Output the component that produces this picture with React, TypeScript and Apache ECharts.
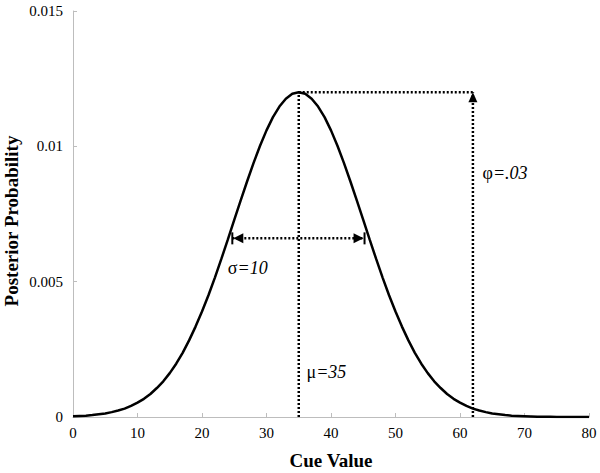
import React, { useEffect, useRef } from "react";
import * as echarts from "echarts";

const cueValues = [
  0, 1, 2, 3, 4, 5, 6, 7, 8, 9, 10, 11, 12, 13, 14, 15, 16, 17, 18, 19, 20,
  21, 22, 23, 24, 25, 26, 27, 28, 29, 30, 31, 32, 33, 34, 35, 36, 37, 38, 39, 40,
  41, 42, 43, 44, 45, 46, 47, 48, 49, 50, 51, 52, 53, 54, 55, 56, 57, 58, 59, 60,
  61, 62, 63, 64, 65, 66, 67, 68, 69, 70, 71, 72, 73, 74, 75, 76, 77, 78, 79, 80,
];

const posterior = [
  0.00003, 0.00004, 0.00005, 0.00007, 0.0001, 0.00013, 0.00018, 0.00024, 0.00031, 0.00041,
  0.00053, 0.00067, 0.00085, 0.00107, 0.00132, 0.00162, 0.00197, 0.00237, 0.00283, 0.00334,
  0.0039, 0.0045, 0.00515, 0.00584, 0.00655, 0.00728, 0.008, 0.00871, 0.00939, 0.01002,
  0.01059, 0.01108, 0.01147, 0.01176, 0.01194, 0.012, 0.01194, 0.01176, 0.01147, 0.01108,
  0.01059, 0.01002, 0.00939, 0.00871, 0.008, 0.00728, 0.00655, 0.00584, 0.00515, 0.0045,
  0.0039, 0.00334, 0.00283, 0.00237, 0.00197, 0.00162, 0.00132, 0.00107, 0.00085, 0.00067,
  0.00053, 0.00041, 0.00031, 0.00024, 0.00018, 0.00013, 0.0001, 0.00007, 0.00005, 0.00004,
  0.00003, 0.00002, 0.00001, 0.00001, 0.00001, 0, 0, 0, 0, 0, 0,
];

// annotation guides (data coordinates)
const muLineX = [35, 35];
const muLineY = [0, 0.012];
const peakLineX = [35, 62];
const peakLineY = [0.012, 0.012];
const phiLineX = [62, 62];
const phiLineY = [0, 0.012];
const sigmaArrowX = [24.7, 45.2];
const sigmaArrowY = [0.0066, 0.0066];

const sigmaLabelPos = [24.0, 0.0055];
const muLabelPos = [36.2, 0.00166];
const phiLabelPos = [63.5, 0.00902];

const FONT = "Liberation Serif";
const AXIS_GRAY = "#bdbdbd";

const dotted = { color: "#000", width: 2.5, type: [2, 2] as number[], cap: "butt" as const };

function guide(xs: number[], ys: number[]) {
  return {
    type: "line",
    data: xs.map((x, i) => [x, ys[i]]),
    showSymbol: false,
    lineStyle: dotted,
    silent: true,
    z: 2,
  };
}

export default function App() {
  const ref = useRef<HTMLDivElement>(null);

  useEffect(() => {
    if (!ref.current) return;
    const chart = echarts.init(ref.current, undefined, { renderer: "svg" });
    chart.setOption({
      animation: false,
      backgroundColor: "#fff",
      textStyle: { fontFamily: FONT },
      grid: { left: 73, right: 11, top: 11, bottom: 56, outerBoundsMode: "none" },
      xAxis: {
        type: "value",
        min: 0,
        max: 80,
        interval: 10,
        name: "Cue Value",
        nameLocation: "middle",
        nameGap: 34,
        nameMoveOverlap: false,
        nameTextStyle: { fontFamily: FONT, fontWeight: "bold", fontSize: 19, color: "#000" },
        axisLine: { lineStyle: { color: AXIS_GRAY, width: 1 } },
        axisTick: { inside: true, length: 4, lineStyle: { color: AXIS_GRAY } },
        axisLabel: { fontFamily: FONT, fontSize: 15, color: "#000", margin: 8 },
        splitLine: { show: false },
      },
      yAxis: {
        type: "value",
        min: 0,
        max: 0.015,
        interval: 0.005,
        name: "Posterior Probability",
        nameLocation: "middle",
        nameGap: 52,
        nameMoveOverlap: false,
        nameRotate: 90,
        nameTextStyle: {
          fontFamily: FONT,
          fontWeight: "bold",
          fontSize: 19,
          color: "#000",
          padding: [0, 14, 0, 0],
        },
        axisLine: { show: true, lineStyle: { color: AXIS_GRAY, width: 1 } },
        axisTick: { show: true, inside: true, length: 4, lineStyle: { color: AXIS_GRAY } },
        axisLabel: {
          fontFamily: FONT,
          fontSize: 15,
          color: "#000",
          margin: 10,
          formatter: (v: number) => String(parseFloat(v.toFixed(4))),
        },
        splitLine: { show: false },
      },
      series: [
        guide(muLineX, muLineY),
        guide(peakLineX, peakLineY),
        guide(phiLineX, phiLineY),
        guide(sigmaArrowX, sigmaArrowY),
        {
          type: "line",
          data: cueValues.map((x, i) => [x, posterior[i]]),
          showSymbol: false,
          lineStyle: { color: "#000", width: 2.5 },
          z: 3,
        },
      ],
    });

    const px = (x: number, y: number) =>
      chart.convertToPixel({ gridIndex: 0 }, [x, y]) as number[];

    const tip = px(phiLineX[1], phiLineY[1]);
    const l = px(sigmaArrowX[0], sigmaArrowY[0]);
    const r = px(sigmaArrowX[1], sigmaArrowY[1]);
    const sp = px(sigmaLabelPos[0], sigmaLabelPos[1]);
    const mp = px(muLabelPos[0], muLabelPos[1]);
    const pp = px(phiLabelPos[0], phiLabelPos[1]);

    const label = (p: number[], g: string, rest: string) => ({
      type: "text",
      x: p[0],
      y: p[1],
      style: {
        text: `{g|${g}}{i|${rest}}`,
        rich: {
          g: { fontFamily: FONT, fontSize: 18, fontStyle: "normal", fill: "#000" },
          i: { fontFamily: FONT, fontSize: 18, fontStyle: "italic", fill: "#000" },
        },
        verticalAlign: "middle",
        align: "left",
        fontFamily: FONT,
        fontSize: 18,
      },
      z: 10,
    });

    chart.setOption({
      graphic: [
        {
          type: "polygon",
          shape: { points: [[tip[0], tip[1]], [tip[0] - 4.5, tip[1] + 10], [tip[0] + 4.5, tip[1] + 10]] },
          style: { fill: "#000" },
          z: 10,
        },
        {
          type: "line",
          shape: { x1: l[0], y1: l[1] - 6, x2: l[0], y2: l[1] + 6 },
          style: { stroke: "#000", lineWidth: 2 },
          z: 10,
        },
        {
          type: "polygon",
          shape: { points: [[l[0] + 1, l[1]], [l[0] + 11, l[1] - 5], [l[0] + 11, l[1] + 5]] },
          style: { fill: "#000" },
          z: 10,
        },
        {
          type: "line",
          shape: { x1: r[0], y1: r[1] - 6, x2: r[0], y2: r[1] + 6 },
          style: { stroke: "#000", lineWidth: 2 },
          z: 10,
        },
        {
          type: "polygon",
          shape: { points: [[r[0] - 1, r[1]], [r[0] - 11, r[1] - 5], [r[0] - 11, r[1] + 5]] },
          style: { fill: "#000" },
          z: 10,
        },
        label(sp, "σ", "=10"),
        label(mp, "μ", "=35"),
        label(pp, "φ", "=.03"),
      ],
    });

    return () => chart.dispose();
  }, []);

  return (
    <div
      ref={ref}
      style={{ position: "fixed", left: 0, top: 0, width: 600, height: 473 }}
    />
  );
}
